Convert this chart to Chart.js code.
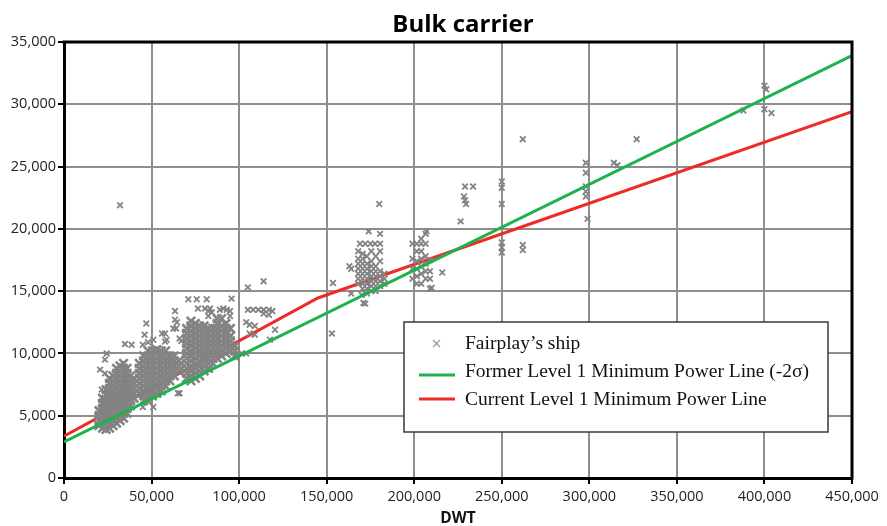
<!DOCTYPE html>
<html>
<head>
<meta charset="utf-8">
<script src="https://cdn.jsdelivr.net/npm/chart.js@4.4.1/dist/chart.umd.min.js"></script>
<style>
  html, body { margin: 0; padding: 0; background: #ffffff; }
  #wrap { width: 887px; height: 526px; }
</style>
</head>
<body>
<div id="wrap"><canvas id="c" width="887" height="526"></canvas></div>
<script>
// ---------------- DATA ----------------
const chartTitle = "Bulk carrier";
const xAxisTitle = "DWT";
const seriesNames = [
  "Fairplay\u2019s ship",
  "Former Level 1 Minimum Power Line (-2\u03c3)",
  "Current Level 1 Minimum Power Line"
];

// Former Level 1 line (straight)
const formerDWT = [0, 450000];
const formerKW  = [2900, 33900];

// Current Level 1 line (two segments)
const currentDWT = [0, 145000, 450000];
const currentKW  = [3350, 14450, 29400];

// Dense groups of small/medium ships: one DWT per column, list of kW read for it
const clusterDWT = [
  20000, 22000, 24000, 26000, 28000, 30000, 32000, 34000, 36000, 38000, 40000,
  43000, 45500, 48000, 50500, 53000, 55500, 58000, 60500, 63000, 65500,
  70000, 72500, 75000, 77500, 80000, 82500, 85000, 87500, 90000, 92500, 95000, 97500
];
const clusterKW = [
  [4200, 4600, 5000, 5400],
  [4000, 4400, 4800, 5200, 5600, 6000, 6400],
  [3900, 4300, 4700, 5100, 5500, 5900, 6300, 6700, 7100],
  [4000, 4400, 4800, 5200, 5600, 6000, 6400, 6800, 7200, 7600, 8000],
  [4200, 4600, 5000, 5400, 5800, 6200, 6600, 7000, 7400, 7800, 8200],
  [4400, 4800, 5200, 5600, 6000, 6400, 6800, 7200, 7600, 8000, 8400, 8800],
  [4600, 5000, 5400, 5800, 6200, 6600, 7000, 7400, 7800, 8200, 8600, 9000],
  [4800, 5200, 5600, 6000, 6400, 6800, 7200, 7600, 8000, 8400, 8800, 9200],
  [5200, 5600, 6000, 6400, 6800, 7200, 7600, 8000, 8400, 8800],
  [5800, 6200, 6600, 7000, 7400, 7800, 8200],
  [6400, 6800, 7200, 7600, 8000],
  [6800, 7200, 7600, 8000, 8400, 8800, 9200],
  [6200, 6600, 7000, 7400, 7800, 8200, 8600, 9000, 9400, 9800],
  [6200, 6600, 7000, 7400, 7800, 8200, 8600, 9000, 9400, 9800, 10200],
  [6600, 7000, 7400, 7800, 8200, 8600, 9000, 9400, 9800, 10200],
  [6800, 7200, 7600, 8000, 8400, 8800, 9200, 9600, 10000, 10300],
  [7000, 7400, 7800, 8200, 8600, 9000, 9400, 9800, 10200],
  [7400, 7800, 8200, 8600, 9000, 9400, 9800, 10200],
  [7800, 8200, 8600, 9000, 9400, 9800],
  [8200, 8600, 9000, 9400, 9800],
  [8600, 9000, 9400],
  [8000, 8400, 8800, 9200, 9600, 10000, 10400, 10800, 11200, 11600, 12000],
  [7800, 8200, 8600, 9000, 9400, 9800, 10200, 10600, 11000, 11400, 11800, 12200, 12600],
  [8000, 8400, 8800, 9200, 9600, 10000, 10400, 10800, 11200, 11600, 12000, 12400],
  [8200, 8600, 9000, 9400, 9800, 10200, 10600, 11000, 11400, 11800, 12200],
  [8600, 9000, 9400, 9800, 10200, 10600, 11000, 11400, 11800, 12200],
  [8800, 9200, 9600, 10000, 10400, 10800, 11200, 11600, 12000],
  [9200, 9600, 10000, 10400, 10800, 11200, 11600, 12000],
  [9600, 10000, 10400, 10800, 11200, 11600, 12000, 12400, 12800],
  [9800, 10200, 10600, 11000, 11400, 11800, 12200, 12800],
  [10000, 10400, 10800, 11200, 11600, 12000, 12400],
  [10200, 10600, 11000, 11400, 12000],
  [9800, 10200, 10600]
];

// Capesize groups around 170-185k and 200-210k DWT: one DWT per column
const capeDWT = [168000, 170500, 173000, 175500, 178000, 180500, 183000,
                 199000, 201500, 204000, 206500, 209000];
const capeKW = [
  [15600, 16000, 16400, 16800, 17200, 17600, 18200],
  [15200, 15600, 16000, 16400, 16800, 17200, 17600, 18000],
  [14800, 15200, 15600, 16000, 16400, 16800, 17200, 17800],
  [15000, 15400, 15800, 16200, 16600, 17000, 17400, 18200],
  [15000, 15400, 15800, 16200, 16600, 17000, 17800],
  [15400, 15800, 16200, 16600, 17400, 18200],
  [15600, 16000, 16400],
  [16000, 16800, 17600, 18800],
  [15600, 16200, 16800, 17400, 18200, 18800],
  [15600, 16400, 17000, 17600, 18200, 18800, 19200],
  [16000, 16600, 17200, 17800, 18800, 19600],
  [15200, 16000, 16600, 17500]
];

// Individually visible ships [DWT, kW]
const scatteredShips = [
  [32000, 21900], [23400, 9500], [24400, 10000], [20600, 8700], [23400, 8400], [21500, 7100],
  [34800, 10750], [38600, 10700], [45000, 10700], [46000, 11500], [47000, 12400],
  [48000, 10900], [51000, 11100], [45000, 5700], [51000, 5700],
  [56000, 11600], [57700, 11600], [57700, 10950], [58600, 11100], [62400, 12000],
  [64000, 12000], [64500, 12500], [63400, 13400], [63400, 12700], [66000, 11200],
  [67000, 11000], [66000, 6800], [65000, 6800],
  [71000, 14350], [75800, 14350], [81500, 14350], [95700, 14400],
  [76500, 13600], [80500, 13600], [82400, 13400], [83400, 13600], [84400, 13300],
  [82400, 13000], [89000, 13500], [91000, 13600], [93000, 13500], [94800, 13400], [94800, 13000],
  [98600, 9700], [101500, 10000], [104000, 10000],
  [104000, 12500], [106000, 12300], [109000, 12200], [106000, 11600], [109000, 11500],
  [117600, 11100], [120500, 11900],
  [105000, 13500], [108000, 13500], [111000, 13500], [114000, 13500], [117000, 13500],
  [119000, 13400], [114000, 13200], [117000, 13100],
  [105000, 15300], [114000, 15800],
  [153000, 11600], [153600, 15650], [163000, 17000], [164000, 16800], [164000, 14800],
  [170000, 14700], [171000, 14050], [172000, 14000],
  [169000, 18800], [172000, 18800], [175000, 18800], [177600, 18800], [180500, 18800],
  [174000, 19800], [180500, 19600], [180000, 22000],
  [207000, 19800], [210000, 15250], [216000, 16500],
  [226500, 20600], [228400, 22600], [229000, 22300], [229600, 22000],
  [229000, 23400], [233600, 23400],
  [250000, 23800], [250000, 23300], [250000, 22000],
  [250000, 18900], [250000, 18500], [250000, 18100],
  [262000, 27200], [262000, 18700], [262000, 18300],
  [298000, 25300], [298000, 24500], [298000, 23400], [298000, 23000], [298000, 22600],
  [299000, 20800], [314000, 25300], [316000, 25100], [327000, 27200],
  [388000, 29500], [400000, 31500], [401000, 31200], [400000, 29600], [404000, 29300]
];

// ---------------- BUILD ----------------
const shipPoints = [];
clusterDWT.forEach((d, i) => clusterKW[i].forEach(k => shipPoints.push({ x: d, y: k })));
const denseCount = shipPoints.length;
capeDWT.forEach((d, i) => capeKW[i].forEach(k => shipPoints.push({ x: d, y: k })));
scatteredShips.forEach(p => shipPoints.push({ x: p[0], y: p[1] }));
const formerPoints = formerDWT.map((d, i) => ({ x: d, y: formerKW[i] }));
const currentPoints = currentDWT.map((d, i) => ({ x: d, y: currentKW[i] }));

const GRAY = '#838383';
const GREEN = '#1db24b';
const RED = '#ee2b26';

const framePlugin = {
  id: 'frame',
  afterDatasetsDraw(chart) {
    const { ctx, chartArea: a } = chart;
    ctx.save();
    ctx.strokeStyle = '#000';
    ctx.lineWidth = 3;
    ctx.beginPath();
    ctx.moveTo(a.left - 1.5, a.top);
    ctx.lineTo(a.right, a.top);
    ctx.lineTo(a.right, a.bottom + 1.5);
    ctx.stroke();
    ctx.restore();
  },
  afterDraw(chart) {
    const { ctx, chartArea: a } = chart;
    ctx.save();
    // title
    ctx.fillStyle = '#000';
    ctx.font = "bold 24px 'Open Sans'";
    ctx.textAlign = 'center';
    ctx.textBaseline = 'alphabetic';
    ctx.fillText(chartTitle, (a.left + a.right) / 2 + 5, 32);

    // legend
    const bx = 404, by = 322, bw = 424, bh = 110;
    ctx.fillStyle = '#fff';
    ctx.fillRect(bx, by, bw, bh);
    ctx.strokeStyle = '#3a3a3a';
    ctx.lineWidth = 1.5;
    ctx.strokeRect(bx, by, bw, bh);

    ctx.font = "19.5px 'Liberation Serif'";
    ctx.textAlign = 'left';
    ctx.textBaseline = 'middle';
    ctx.fillStyle = '#111';
    const tx = 465;
    const rows = [344, 372, 400];
    // marker
    ctx.strokeStyle = '#9a9a9a';
    ctx.lineWidth = 1.3;
    ctx.beginPath();
    ctx.moveTo(433, 340); ctx.lineTo(440, 347);
    ctx.moveTo(440, 340); ctx.lineTo(433, 347);
    ctx.stroke();
    ctx.fillText(seriesNames[0], tx, rows[0]);
    // green
    ctx.strokeStyle = GREEN; ctx.lineWidth = 3;
    ctx.beginPath(); ctx.moveTo(419, 375); ctx.lineTo(455, 375); ctx.stroke();
    ctx.fillText(seriesNames[1], tx, rows[1]);
    // red
    ctx.strokeStyle = RED; ctx.lineWidth = 3;
    ctx.beginPath(); ctx.moveTo(419, 399); ctx.lineTo(455, 399); ctx.stroke();
    ctx.fillText(seriesNames[2], tx, rows[2]);
    ctx.restore();
  }
};

new Chart(document.getElementById('c'), {
  type: 'scatter',
  data: {
    datasets: [
      {
        label: seriesNames[2], data: currentPoints, showLine: true,
        borderColor: RED, borderWidth: 3, pointRadius: 0, order: 3, fill: false
      },
      {
        label: seriesNames[0], data: shipPoints, pointStyle: 'crossRot',
        pointRadius: (c) => (c.dataIndex < denseCount ? 6 : 4),
        borderColor: GRAY, backgroundColor: GRAY,
        pointBorderWidth: (c) => (c.dataIndex < denseCount ? 2.6 : 1.8),
        order: 2
      },
      {
        label: seriesNames[1], data: formerPoints, showLine: true,
        borderColor: GREEN, borderWidth: 3, pointRadius: 0, order: 1, fill: false
      }
    ]
  },
  options: {
    responsive: false,
    animation: false,
    devicePixelRatio: 1,
    layout: { padding: { top: 42, right: 35, left: 0, bottom: 0 } },
    plugins: {
      legend: { display: false },
      title: { display: false },
      tooltip: { enabled: false }
    },
    scales: {
      x: {
        type: 'linear', min: 0, max: 450000,
        afterFit(s) { s.height = 48; },
        ticks: { stepSize: 50000, color: '#222', padding: 4, maxRotation: 0,
                 font: { family: "'Open Sans'", size: 14.5 } },
        grid: { color: '#8e8e8e', lineWidth: 2, tickColor: '#000', tickLength: 6, tickWidth: 2 },
        border: { display: true, color: '#000', width: 3 },
        title: { display: true, text: xAxisTitle, color: '#111',
                 font: { family: "'Open Sans'", size: 15.5, weight: 'bold', lineHeight: 1 },
                 padding: { top: 0, bottom: 0 } }
      },
      y: {
        type: 'linear', min: 0, max: 35000,
        afterFit(s) { s.width = 64; },
        ticks: { stepSize: 5000, color: '#222', padding: 2,
                 font: { family: "'Open Sans'", size: 14.5 } },
        grid: { color: '#8e8e8e', lineWidth: 2, tickColor: '#000', tickLength: 6, tickWidth: 2 },
        border: { display: true, color: '#000', width: 3 }
      }
    }
  },
  plugins: [framePlugin]
});
</script>
</body>
</html>
